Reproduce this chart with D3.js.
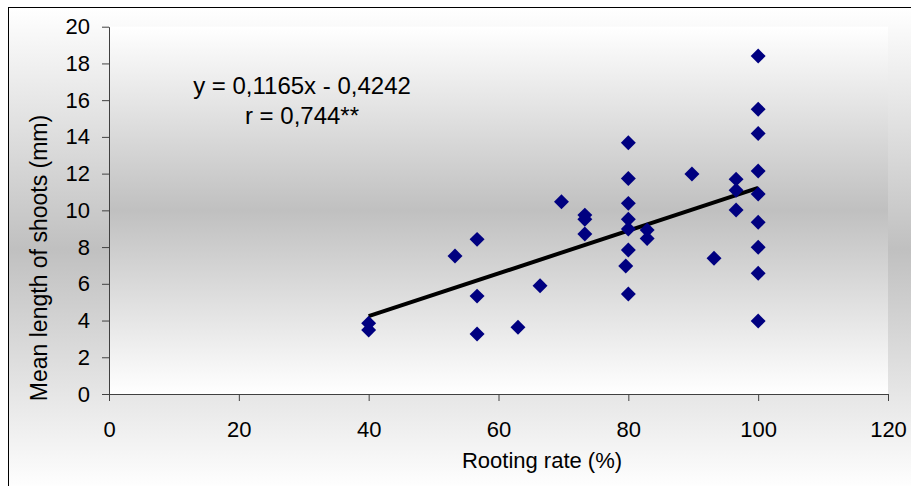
<!DOCTYPE html>
<html>
<head>
<meta charset="utf-8">
<script src="https://cdn.jsdelivr.net/npm/d3@7"></script>
<style>
  html, body { margin: 0; padding: 0; background: #fff; }
  svg { display: block; font-family: "Liberation Sans", Arial, sans-serif; }
</style>
</head>
<body>
<svg id="chart"></svg>
<script>
// Rooting rate (%) vs mean length of shoots (mm)
const rootingRate = [
  40, 40, 53.3, 56.7, 56.7, 56.7, 63.0, 66.4, 69.7, 73.3, 73.3, 73.3,
  80, 80, 80, 80, 80, 80, 79.6, 80, 82.9, 82.9, 89.8, 93.2,
  96.6, 96.6, 96.6, 100, 100, 100, 100, 100, 100, 100, 100, 100
];
const shootLength = [
  3.85, 3.48, 7.51, 8.42, 5.33, 3.27, 3.63, 5.90, 10.47, 9.74, 9.51, 8.71,
  13.68, 11.74, 10.38, 9.51, 8.98, 7.84, 6.97, 5.44, 8.93, 8.47, 11.98, 7.39,
  11.70, 11.10, 10.02, 18.40, 15.51, 14.19, 12.14, 10.89, 9.35, 7.99, 6.57, 3.97
];

// Linear trend: y = slope * x + intercept, drawn over the data range
const trendSlope = 0.1165;
const trendIntercept = -0.4242;
const trendLabels = ['y = 0,1165x - 0,4242', 'r = 0,744**'];

const xTicks = [0, 20, 40, 60, 80, 100, 120];
const yTicks = [0, 2, 4, 6, 8, 10, 12, 14, 16, 18, 20];

const width = 911, height = 486;
const plot = { left: 109, right: 888, top: 26.7, bottom: 394 };

const svg = d3.select('#chart')
  .attr('width', width)
  .attr('height', height);

const defs = svg.append('defs');

// vertical white -> silver -> white fill, as used by both areas
function addGradient(id) {
  const g = defs.append('linearGradient')
    .attr('id', id)
    .attr('x1', 0).attr('y1', 0)
    .attr('x2', 0).attr('y2', 1);
  g.append('stop').attr('offset', '0%').attr('stop-color', '#ffffff');
  g.append('stop').attr('offset', '50%').attr('stop-color', '#c0c0c0');
  g.append('stop').attr('offset', '100%').attr('stop-color', '#ffffff');
}
addGradient('chart-bg');
addGradient('plot-bg');

// chart area (only top and left borders fall inside the picture)
svg.append('rect')
  .attr('x', 8.5).attr('y', 7.5)
  .attr('width', 920).attr('height', 483)
  .attr('fill', 'url(#chart-bg)')
  .attr('stroke', '#000')
  .attr('stroke-width', 1);

// plot area
svg.append('rect')
  .attr('x', plot.left).attr('y', plot.top)
  .attr('width', plot.right - plot.left)
  .attr('height', plot.bottom - plot.top)
  .attr('fill', 'url(#plot-bg)');

const x = d3.scaleLinear().domain([0, 120]).range([plot.left, plot.right]);
const y = d3.scaleLinear().domain([0, 20]).range([plot.bottom, plot.top]);

// axes
const xAxis = svg.append('g')
  .attr('transform', `translate(0,${plot.bottom})`)
  .call(d3.axisBottom(x).tickValues(xTicks).tickSize(7).tickSizeOuter(0).tickPadding(20));

const yAxis = svg.append('g')
  .attr('transform', `translate(${plot.left},0)`)
  .call(d3.axisLeft(y).tickValues(yTicks).tickSize(7).tickSizeOuter(0).tickPadding(12));

[xAxis, yAxis].forEach(axis => {
  axis.attr('font-family', null).attr('font-size', null);
  axis.select('.domain').attr('stroke', '#404040');
  axis.selectAll('.tick line').attr('stroke', '#404040');
  axis.selectAll('.tick text')
    .attr('fill', '#000')
    .style('font-size', '22px');
});

// axis titles
svg.append('text')
  .attr('x', 542)
  .attr('y', 468)
  .attr('text-anchor', 'middle')
  .style('font-size', '22px')
  .text('Rooting rate (%)');

svg.append('text')
  .attr('transform', 'rotate(-90)')
  .attr('x', -258)
  .attr('y', 47)
  .attr('text-anchor', 'middle')
  .style('font-size', '23px')
  .text('Mean length of shoots (mm)');

// trend line across the observed x range
const xExtent = d3.extent(rootingRate);
const trend = xExtent.map(v => [v, trendSlope * v + trendIntercept]);
svg.append('path')
  .datum(trend)
  .attr('fill', 'none')
  .attr('stroke', '#000')
  .attr('stroke-width', 4)
  .attr('d', d3.line().x(d => x(d[0])).y(d => y(d[1])));

// data points: navy diamonds
const points = rootingRate.map((r, i) => ({ r, s: shootLength[i] }));
svg.append('g')
  .selectAll('path')
  .data(points)
  .join('path')
  .attr('d', d3.symbol().type(d3.symbolSquare).size(112))
  .attr('transform', d => `translate(${x(d.r)},${y(d.s)}) rotate(45)`)
  .attr('fill', '#000080');

// equation label
svg.append('text')
  .attr('text-anchor', 'middle')
  .style('font-size', '24px')
  .selectAll('tspan')
  .data(trendLabels)
  .join('tspan')
  .attr('x', 302)
  .attr('y', (d, i) => 94 + i * 30)
  .text(d => d);
</script>
</body>
</html>
